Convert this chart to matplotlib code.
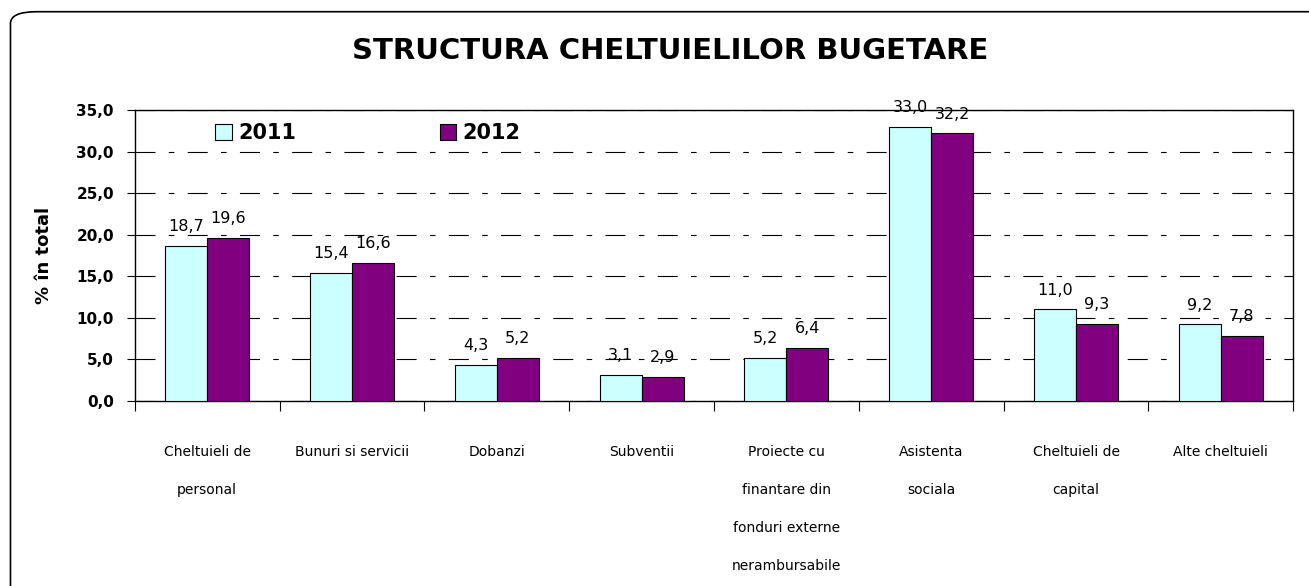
import numpy as np
import matplotlib
matplotlib.use("Agg")
import matplotlib.pyplot as plt
import matplotlib.patches as patches

plt.rcParams['font.family'] = ['DejaVu Sans']

# Date
categorii = ["Cheltuieli de\npersonal", "Bunuri si servicii", "Dobanzi", "Subventii",
             "Proiecte cu\nfinantare din\nfonduri externe\nnerambursabile",
             "Asistenta\nsociala", "Cheltuieli de\ncapital", "Alte cheltuieli"]
val_2011 = [18.7, 15.4, 4.3, 3.1, 5.2, 33.0, 11.0, 9.2]
val_2012 = [19.6, 16.6, 5.2, 2.9, 6.4, 32.2, 9.3, 7.8]
yticks = [0, 5, 10, 15, 20, 25, 30, 35]

fig = plt.figure(figsize=(13.09, 5.86), dpi=100)
ax = fig.add_axes([0.103, 0.316, 0.885, 0.496])

# chenar rotunjit exterior
border = patches.FancyBboxPatch((0.008, -0.05), 1.05, 1.03,
                                boxstyle="round,pad=0,rounding_size=0.02",
                                transform=fig.transFigure, fill=False,
                                edgecolor="black", linewidth=1.2, clip_on=False)
fig.patches.append(border)

x = np.arange(len(categorii))
w = 0.29
b1 = ax.bar(x - w / 2, val_2011, w, color="#CCFFFF", edgecolor="black", linewidth=0.8, label="2011", zorder=3)
b2 = ax.bar(x + w / 2, val_2012, w, color="#800080", edgecolor="black", linewidth=0.8, label="2012", zorder=3)

for bars, vals in [(b1, val_2011), (b2, val_2012)]:
    for rect, v in zip(bars, vals):
        ax.text(rect.get_x() + rect.get_width() / 2, v + 1.4, f"{v:.1f}".replace(".", ","),
                ha="center", va="bottom", fontsize=11.5)

ax.set_xlim(-0.5, len(categorii) - 0.5)
ax.set_ylim(0, 35)
ax.set_yticks(yticks)
ax.set_yticklabels([f"{t:.1f}".replace(".", ",") for t in yticks], fontsize=11, fontweight="bold")
ax.yaxis.grid(True, color="black", linestyle=(0, (18, 12, 5, 12)), linewidth=0.8)
ax.set_axisbelow(True)
ax.tick_params(axis="y", direction="out", length=6, pad=9)

# ticks intre categorii
ax.set_xticks(np.arange(len(categorii) + 1) - 0.5)
ax.set_xticklabels([])
ax.tick_params(axis="x", direction="out", length=7)
for xi, lab in zip(x, categorii):
    ax.text(xi, -5.3, lab, ha="center", va="top", fontsize=10, linespacing=3.2)

ax.set_ylabel("% în total", fontsize=13, fontweight="bold")
ax.yaxis.set_label_coords(-0.071, 0.5)

for s in ax.spines.values():
    s.set_linewidth(1.0)

ax.legend(loc="upper left", bbox_to_anchor=(0.053, 1.02), ncol=2, frameon=False,
          prop={"size": 15, "weight": "bold"}, handlelength=0.8, handleheight=0.8,
          columnspacing=6.9, handletextpad=0.3)

fig.text(0.512, 0.913, "STRUCTURA CHELTUIELILOR BUGETARE", ha="center", va="center",
         fontsize=21, fontweight="bold")

fig.savefig("out.png", dpi=100)
